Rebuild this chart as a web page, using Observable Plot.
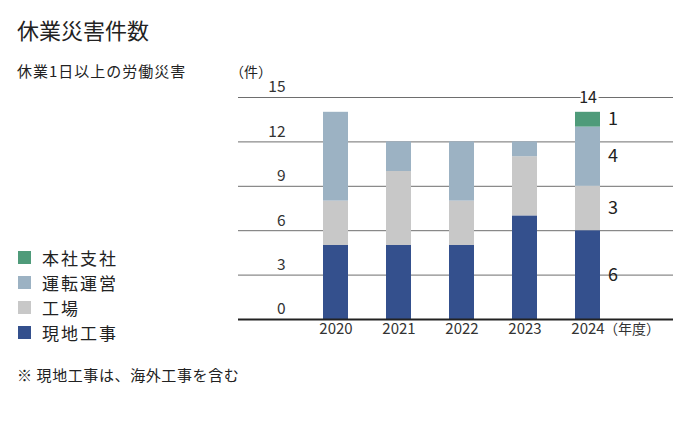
<!DOCTYPE html>
<html><head><meta charset="utf-8">
<script src="https://cdn.jsdelivr.net/npm/d3@7"></script>
<script src="https://cdn.jsdelivr.net/npm/@observablehq/plot@0.6"></script>
<style>
body{margin:0;background:#fff;font-family:"Noto Sans CJK JP","Noto Sans",sans-serif;color:#222;}
#wrap{position:relative;width:690px;height:428px;overflow:hidden;}
#chart{position:absolute;left:0;top:0;}
.t{position:absolute;white-space:nowrap;line-height:1;}
.leg{position:absolute;left:18px;font-size:17px;letter-spacing:2px;line-height:1;display:flex;align-items:center;}
.sw{display:inline-block;width:13px;height:13px;margin-right:11px;}
</style></head>
<body><div id="wrap"><div id="chart"></div></div>
<script>
const years = ["2020","2021","2022","2023","2024"];
const genba = [5,5,5,7,6];     // 現地工事
const kojo = [3,5,3,4,3];      // 工場
const unten = [6,2,4,1,4];     // 運転運営
const honsha = [0,0,0,0,1];    // 本社支社
const cats = ["現地工事","工場","運転運営","本社支社"];
const colors = ["#34508d","#c8c8c8","#9cb2c3","#4f9b7a"];
const yTicks = [0,3,6,9,12,15];
const totalLabelYear = "2024";

const series = [genba,kojo,unten,honsha];
const data = [];
years.forEach((y,i)=>cats.forEach((c,j)=>{ if(series[j][i]>0) data.push({year:y,cat:c,value:series[j][i]}); }));
const totals = years.map((y,i)=>({year:y,total:series.reduce((s,a)=>s+a[i],0)}));
const lastData = data.filter(d=>d.year===totalLabelYear);
const font = '"Noto Sans CJK JP","Noto Sans",sans-serif';

const plot = Plot.plot({
  width:690, height:428,
  marginLeft:238, marginRight:17, marginTop:97, marginBottom:109,
  style:{fontFamily:font, background:"transparent", overflow:"visible"},
  x:{domain:years, range:[304.5,619.5], paddingInner:0.6, paddingOuter:0.3, axis:null},
  y:{domain:[0,15], axis:null},
  color:{domain:cats, range:colors},
  marks:[
    Plot.ruleY(yTicks.filter(d=>d>0), {stroke:"#6e6e6e", strokeWidth:1}),
    Plot.barY(data, {x:"year", y:"value", fill:"cat", order:cats}),
    Plot.ruleY([0], {stroke:"#222", strokeWidth:2}),
    Plot.text(yTicks, {y:d=>d, frameAnchor:"left", dx:47, dy:-10, textAnchor:"end", text:d=>String(d), fontSize:15.5, fill:"#333"}),
    Plot.text(years, {x:d=>d, frameAnchor:"bottom", dy:14, text:d=>d, fontSize:15, fill:"#333"}),
    Plot.text(["（年度）"], {x:()=>totalLabelYear, frameAnchor:"bottom", dy:14, dx:16, textAnchor:"start", text:d=>d, fontSize:14, fill:"#333"}),
    Plot.text(totals.filter(d=>d.year===totalLabelYear), {x:"year", y:"total", text:d=>String(d.total), dy:-14, fontSize:16, fill:"#222", stroke:"white", strokeWidth:5, paintOrder:"stroke"}),
    Plot.text(lastData, Plot.stackY({x:"year", y:"value", z:"cat", order:cats, text:d=>String(d.value), dx:20, textAnchor:"start", fontSize:18, fill:"#222"}))
  ]
});
document.getElementById("chart").appendChild(plot);

const wrap = document.getElementById("wrap");
function addText(txt, x, y, size, ls){
  const d = document.createElement("div"); d.className="t"; d.textContent=txt;
  d.style.left=x+"px"; d.style.top=y+"px"; d.style.fontSize=size+"px";
  if(ls) d.style.letterSpacing=ls+"px";
  wrap.appendChild(d);
}
addText("休業災害件数", 17, 18, 22);
addText("休業1日以上の労働災害", 17, 63, 15, 1);
addText("（件）", 230, 64, 14);
addText("※ 現地工事は、海外工事を含む", 17, 367, 15, 0.6);
const legRows = [["本社支社",colors[3],249],["運転運営",colors[2],274],["工場",colors[1],299],["現地工事",colors[0],324]];
legRows.forEach(([t,c,y])=>{
  const d=document.createElement("div"); d.className="leg"; d.style.top=y+"px";
  d.innerHTML=`<span class="sw" style="background:${c}"></span>${t}`; wrap.appendChild(d);
});
</script></body></html>
